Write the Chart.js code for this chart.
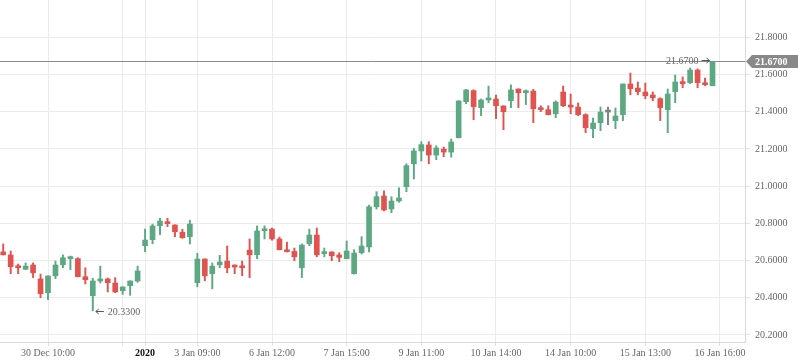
<!DOCTYPE html>
<html><head><meta charset="utf-8">
<script src="https://cdn.jsdelivr.net/npm/chart.js@4.4.0/dist/chart.umd.min.js"></script>
<style>html,body{margin:0;padding:0;background:#fff;}canvas{display:block;}</style>
</head><body>
<canvas id="c" width="798" height="363"></canvas>
<script>
// ---- data ----
const openP = [20.646,20.630,20.572,20.553,20.576,20.501,20.427,20.518,20.577,20.610,
  20.610,20.513,20.411,20.490,20.501,20.479,20.438,20.465,20.490,20.680,
  20.712,20.787,20.809,20.791,20.752,20.728,20.481,20.608,20.529,20.577,
  20.597,20.572,20.570,20.656,20.631,20.760,20.769,20.716,20.656,20.649,
  20.561,20.691,20.737,20.637,20.646,20.630,20.610,20.529,20.642,20.673,
  20.889,20.947,20.877,20.920,20.997,21.120,21.189,21.221,21.167,21.199,
  21.183,21.260,21.454,21.513,21.422,21.463,21.468,21.431,21.459,21.522,
  21.502,21.511,21.416,21.411,21.389,21.506,21.431,21.425,21.384,21.309,
  21.341,21.398,21.352,21.384,21.549,21.527,21.506,21.490,21.470,21.411,
  21.508,21.560,21.556,21.624,21.549,21.540];
const highP = [20.689,20.651,20.581,20.587,20.587,20.527,20.518,20.597,20.630,20.624,
  20.615,20.561,20.504,20.570,20.506,20.508,20.459,20.491,20.570,20.769,
  20.796,20.827,20.827,20.792,20.768,20.816,20.639,20.609,20.587,20.628,
  20.678,20.577,20.597,20.716,20.786,20.786,20.775,20.726,20.699,20.667,
  20.689,20.769,20.775,20.667,20.647,20.642,20.705,20.658,20.728,20.898,
  20.970,20.974,20.943,20.991,21.120,21.203,21.239,21.239,21.217,21.210,
  21.253,21.459,21.520,21.518,21.468,21.538,21.490,21.432,21.544,21.523,
  21.517,21.520,21.432,21.432,21.458,21.538,21.495,21.447,21.389,21.366,
  21.425,21.425,21.420,21.549,21.608,21.560,21.554,21.506,21.475,21.522,
  21.597,21.587,21.635,21.630,21.581,21.670];
const lowP = [20.629,20.529,20.529,20.552,20.508,20.400,20.389,20.502,20.561,20.551,
  20.512,20.474,20.330,20.479,20.431,20.427,20.418,20.413,20.483,20.647,
  20.690,20.739,20.782,20.728,20.719,20.689,20.459,20.491,20.448,20.561,
  20.534,20.529,20.518,20.508,20.610,20.716,20.710,20.657,20.646,20.599,
  20.508,20.680,20.620,20.620,20.599,20.594,20.609,20.527,20.635,20.646,
  20.877,20.866,20.857,20.913,20.970,21.038,21.135,21.120,21.142,21.158,
  21.156,21.259,21.443,21.357,21.379,21.448,21.362,21.303,21.422,21.422,
  21.438,21.341,21.400,21.383,21.368,21.427,21.389,21.378,21.287,21.260,
  21.298,21.330,21.309,21.352,21.491,21.491,21.470,21.459,21.352,21.287,
  21.448,21.529,21.551,21.529,21.540,21.539];
const closeP = [20.631,20.567,20.561,20.570,20.534,20.422,20.517,20.576,20.615,20.615,
  20.513,20.497,20.490,20.501,20.481,20.431,20.458,20.490,20.544,20.710,
  20.786,20.812,20.798,20.755,20.723,20.796,20.608,20.518,20.570,20.592,
  20.561,20.565,20.561,20.631,20.759,20.769,20.716,20.658,20.647,20.620,
  20.683,20.737,20.631,20.646,20.626,20.617,20.651,20.640,20.678,20.889,
  20.943,20.872,20.920,20.936,21.110,21.189,21.223,21.167,21.205,21.183,
  21.237,21.458,21.517,21.427,21.463,21.470,21.432,21.400,21.517,21.502,
  21.513,21.416,21.411,21.384,21.452,21.432,21.425,21.384,21.314,21.339,
  21.398,21.398,21.377,21.549,21.524,21.508,21.486,21.475,21.422,21.495,
  21.560,21.551,21.624,21.556,21.545,21.670];
const xTickPos = [6,16,19,26,36,46,56,66,76,86,96];
const xTickLabels = ['30 Dec 10:00','','2020','3 Jan 09:00','6 Jan 12:00','7 Jan 15:00','9 Jan 11:00','10 Jan 14:00','14 Jan 10:00','15 Jan 13:00','16 Jan 16:00'];
const yearLabel = '2020';
const yTicks = [20.2,20.4,20.6,20.8,21.0,21.2,21.4,21.6,21.8];
const currentPrice = 21.67;

// ---- styles ----
const UP = '#5ba883', DOWN = '#e0534f', FLAT = '#808080';
const FONT = 'Liberation Serif, Times New Roman, serif';
const colorOf = i => closeP[i] > openP[i] ? UP : (closeP[i] < openP[i] ? DOWN : FLAT);

const wickData = highP.map((h, i) => ({x: i, y: [lowP[i], h]}));
const bodyData = openP.map((o, i) => ({x: i, y: [o, closeP[i]]}));
const cols = openP.map((o, i) => colorOf(i));

const overlay = {
  id: 'overlay',
  beforeDatasetsDraw(chart) {
    const {ctx, chartArea, scales} = chart;
    const y = Math.round(scales.y.getPixelForValue(currentPrice)) + 0.5;
    ctx.save();
    ctx.strokeStyle = '#8a8a8a';
    ctx.lineWidth = 1;
    ctx.beginPath(); ctx.moveTo(chartArea.left, y); ctx.lineTo(chartArea.right, y); ctx.stroke();
    ctx.restore();
  },
  afterDraw(chart) {
    const {ctx, chartArea, scales, width} = chart;
    const xs = scales.x, ys = scales.y;
    ctx.save();
    // price tag
    const py = Math.round(ys.getPixelForValue(currentPrice)) + 0.5;
    const r = chartArea.right + 1;
    ctx.fillStyle = '#888888';
    ctx.beginPath();
    ctx.moveTo(r, py);
    ctx.lineTo(r + 6, py - 6.5);
    ctx.lineTo(width, py - 6.5);
    ctx.lineTo(width, py + 6.5);
    ctx.lineTo(r + 6, py + 6.5);
    ctx.closePath(); ctx.fill();
    ctx.fillStyle = '#ffffff';
    ctx.font = 'bold 10px ' + FONT;
    ctx.textAlign = 'left'; ctx.textBaseline = 'middle';
    ctx.fillText(currentPrice.toFixed(4), chartArea.right + 10, py + 0.5);

    // high / low markers
    let hi = 0, lo = 0;
    highP.forEach((v, i) => { if (v >= highP[hi]) hi = i; });
    lowP.forEach((v, i) => { if (v < lowP[lo]) lo = i; });
    ctx.font = '10px ' + FONT;
    ctx.strokeStyle = '#555'; ctx.fillStyle = '#666'; ctx.lineWidth = 1;
    // low
    let x = xs.getPixelForValue(lo), y = Math.round(ys.getPixelForValue(lowP[lo])) + 0.5;
    ctx.beginPath();
    ctx.moveTo(x + 11, y); ctx.lineTo(x + 3, y);
    ctx.moveTo(x + 6, y - 2.5); ctx.lineTo(x + 3, y); ctx.lineTo(x + 6, y + 2.5);
    ctx.stroke();
    ctx.textAlign = 'left';
    ctx.fillText(lowP[lo].toFixed(4), x + 15, y + 0.5);
    // high
    x = xs.getPixelForValue(hi); y = Math.round(ys.getPixelForValue(highP[hi])) - 0.5;
    ctx.beginPath();
    ctx.moveTo(x - 11, y); ctx.lineTo(x - 3, y);
    ctx.moveTo(x - 6, y - 2.5); ctx.lineTo(x - 3, y); ctx.lineTo(x - 6, y + 2.5);
    ctx.stroke();
    ctx.textAlign = 'right';
    ctx.fillText(highP[hi].toFixed(4), x - 14, y + 0.5);
    ctx.restore();
  }
};

new Chart(document.getElementById('c'), {
  type: 'bar',
  data: {
    datasets: [
      {data: wickData, backgroundColor: cols, barThickness: 1.3, grouped: false, order: 2},
      {data: bodyData, backgroundColor: cols, barThickness: 5, minBarLength: 2, grouped: false, order: 1}
    ]
  },
  options: {
    responsive: false,
    animation: false,
    devicePixelRatio: 1,
    layout: {padding: 0},
    plugins: {legend: {display: false}, tooltip: {enabled: false}},
    scales: {
      x: {
        type: 'linear', min: -0.43, max: 99.35, offset: false,
        afterBuildTicks: s => { s.ticks = xTickPos.map(v => ({value: v})); },
        afterFit: s => { s.height = 21; s.paddingLeft = 0; s.paddingRight = 0; },
        grid: {offset: false, color: '#ebebef', lineWidth: 1, drawTicks: true, tickLength: 4, tickColor: '#e2e2e6'},
        border: {display: true, color: '#d8d8dc'},
        ticks: {
          autoSkip: false, maxRotation: 0, minRotation: 0, padding: 1,
          callback: (v, i) => xTickLabels[i],
          color: c => xTickLabels[c.index] === yearLabel ? '#111' : '#666',
          font: c => ({family: FONT, size: 10, weight: xTickLabels[c.index] === yearLabel ? 'bold' : 'normal'})
        }
      },
      y: {
        type: 'linear', position: 'right', min: 20.162, max: 22.0005,
        afterBuildTicks: s => { s.ticks = yTicks.map(v => ({value: v})); },
        afterFit: s => { s.width = 53; s.paddingTop = 0; s.paddingBottom = 0; },
        grid: {color: '#ebebef', lineWidth: 1, drawTicks: true, tickLength: 5, tickColor: '#e2e2e6'},
        border: {display: true, color: '#d8d8dc'},
        ticks: {padding: 5, callback: v => Number(v).toFixed(4), color: '#666', font: {family: FONT, size: 10}}
      }
    }
  },
  plugins: [overlay]
});
</script>
</body></html>
